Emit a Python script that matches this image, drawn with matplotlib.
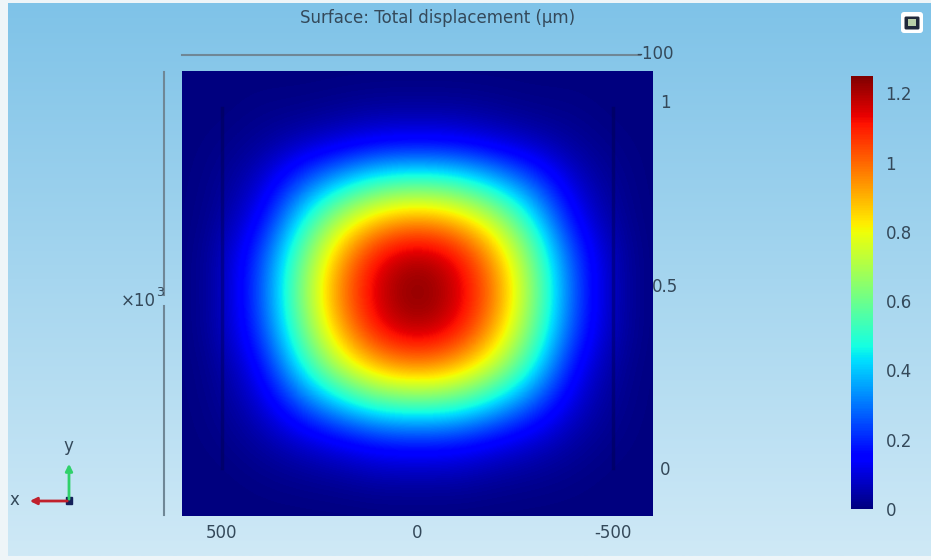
import numpy as np
import matplotlib
matplotlib.use("Agg")
import matplotlib.pyplot as plt
from matplotlib.colors import LinearSegmentedColormap
from matplotlib.patches import Rectangle, FancyBboxPatch

# displacement, every 100 um
x_nodes = [-600, -500, -400, -300, -200, -100, 0, 100, 200, 300, 400, 500, 600]
y_nodes = [-120, -20, 80, 180, 280, 380, 480, 580, 680, 780, 880, 980, 1080]
displacement = [
    [0.00, 0.00, 0.00, 0.00, 0.00, 0.00, 0.00, 0.00, 0.00, 0.00, 0.00, 0.00, 0.00],
    [0.00, 0.00, 0.01, 0.02, 0.03, 0.05, 0.05, 0.05, 0.03, 0.02, 0.01, 0.00, 0.00],
    [0.00, 0.01, 0.04, 0.09, 0.14, 0.19, 0.20, 0.19, 0.14, 0.09, 0.04, 0.01, 0.00],
    [0.00, 0.02, 0.09, 0.26, 0.42, 0.55, 0.58, 0.55, 0.42, 0.26, 0.09, 0.02, 0.00],
    [0.00, 0.03, 0.15, 0.46, 0.74, 0.92, 0.98, 0.92, 0.74, 0.46, 0.15, 0.03, 0.00],
    [0.00, 0.05, 0.23, 0.58, 0.92, 1.14, 1.21, 1.14, 0.92, 0.58, 0.23, 0.05, 0.00],
    [0.00, 0.05, 0.25, 0.63, 0.98, 1.18, 1.26, 1.18, 0.98, 0.63, 0.25, 0.05, 0.00],
    [0.00, 0.05, 0.23, 0.58, 0.92, 1.14, 1.21, 1.14, 0.92, 0.58, 0.23, 0.05, 0.00],
    [0.00, 0.03, 0.14, 0.44, 0.72, 0.89, 0.95, 0.89, 0.72, 0.44, 0.14, 0.03, 0.00],
    [0.00, 0.02, 0.08, 0.25, 0.40, 0.52, 0.55, 0.52, 0.40, 0.25, 0.08, 0.02, 0.00],
    [0.00, 0.01, 0.03, 0.07, 0.11, 0.15, 0.16, 0.15, 0.11, 0.07, 0.03, 0.01, 0.00],
    [0.00, 0.00, 0.01, 0.01, 0.02, 0.03, 0.03, 0.03, 0.02, 0.01, 0.01, 0.00, 0.00],
    [0.00, 0.00, 0.00, 0.00, 0.00, 0.00, 0.00, 0.00, 0.00, 0.00, 0.00, 0.00, 0.00],
]
x_ticks = [500, 0, -500]
x_tick_labels = ["500", "0", "-500"]
y_ticks = [0, 500, 1000]
y_tick_labels = ["0", "0.5", "1"]
cbar_ticks = [0, 0.2, 0.4, 0.6, 0.8, 1, 1.2]
cbar_tick_labels = ["0", "0.2", "0.4", "0.6", "0.8", "1", "1.2"]

W, H = 931, 560
TXT = "#34495a"
LINE = "#6f8796"
FS = 12


def rect(x0, y0, x1, y1):
    return [x0 / W, 1 - y1 / H, (x1 - x0) / W, (y1 - y0) / H]


fig = plt.figure(figsize=(W / 100, H / 100), dpi=100, facecolor="#eef5f8")

# background, in pixel coordinates
bg = fig.add_axes([0, 0, 1, 1])
sky = LinearSegmentedColormap.from_list("sky", ["#7fc3e8", "#a6d6ef", "#cfe9f6"])
bg.imshow(np.linspace(0, 1, 256)[:, None], cmap=sky, extent=[8, W, 556, 3], aspect="auto")
bg.set_xlim(0, W)
bg.set_ylim(H, 0)
bg.axis("off")

bg.text(438, 18, "Surface: Total displacement (µm)", ha="center", va="center",
        fontsize=FS, color=TXT)
bg.plot([182, 640], [55, 55], color=LINE, lw=1.5)
bg.text(636, 54, "-100", ha="left", va="center", fontsize=FS, color=TXT)
bg.plot([164, 164], [72, 295], color=LINE, lw=1.5)
bg.plot([164, 164], [306, 515], color=LINE, lw=1.5)
bg.text(121, 301, "×10", ha="left", va="center", fontsize=FS, color=TXT)
bg.text(156, 293, "3", ha="left", va="center", fontsize=9, color=TXT)

# triad
bg.annotate("", xy=(69, 461), xytext=(69, 502),
            arrowprops=dict(arrowstyle="-|>", color="#2fd16a", lw=2))
bg.annotate("", xy=(27, 501), xytext=(70, 501),
            arrowprops=dict(arrowstyle="-|>", color="#c0202c", lw=2))
bg.add_patch(Rectangle((66, 497), 6, 7, color="#14205a"))
bg.text(68, 446, "y", ha="center", va="center", fontsize=FS, color=TXT)
bg.text(14, 500, "x", ha="center", va="center", fontsize=FS, color=TXT)

# camera icon
bg.add_patch(FancyBboxPatch((904, 15), 16, 15, boxstyle="round,pad=3", fc="white", ec="none"))
bg.add_patch(FancyBboxPatch((906, 18), 12, 10, boxstyle="round,pad=1.5", fc="#20283a", ec="none"))
bg.add_patch(Rectangle((908, 19), 8, 7, fc="#b9cfa8", ec="none"))

# surface
ax = fig.add_axes(rect(182, 71, 653, 516))
ax.patch.set_alpha(0)
extent = [x_nodes[0] - 50, x_nodes[-1] + 50, y_nodes[0] - 50, y_nodes[-1] + 50]
im = ax.imshow(displacement, cmap="jet", vmin=0, vmax=1.25, origin="lower", extent=extent,
               aspect="auto", interpolation="bicubic", interpolation_stage="data")
ax.set_xlim(602, -602)
ax.set_ylim(-130, 1082)
for xv in [500, -500]:
    ax.plot([xv, xv], [0, 980], color="#000040", lw=2.5, alpha=0.35)
ax.set_xticks(x_ticks, x_tick_labels)
ax.set_yticks(y_ticks, y_tick_labels)
ax.yaxis.tick_right()
ax.tick_params(axis="x", length=0, pad=6, labelsize=FS, labelcolor=TXT)
ax.tick_params(axis="y", length=0, pad=9, labelsize=FS, labelcolor=TXT)
for lab in ax.get_yticklabels():
    lab.set_ha("center")
for s in ax.spines.values():
    s.set_visible(False)

# colour legend
cax = fig.add_axes(rect(851, 76, 873, 509))
cb = fig.colorbar(im, cax=cax)
cb.outline.set_visible(False)
cb.set_ticks(cbar_ticks, labels=cbar_tick_labels)
cax.tick_params(length=0, pad=9, labelsize=FS, labelcolor=TXT)

fig.savefig("out.png", dpi=100)
